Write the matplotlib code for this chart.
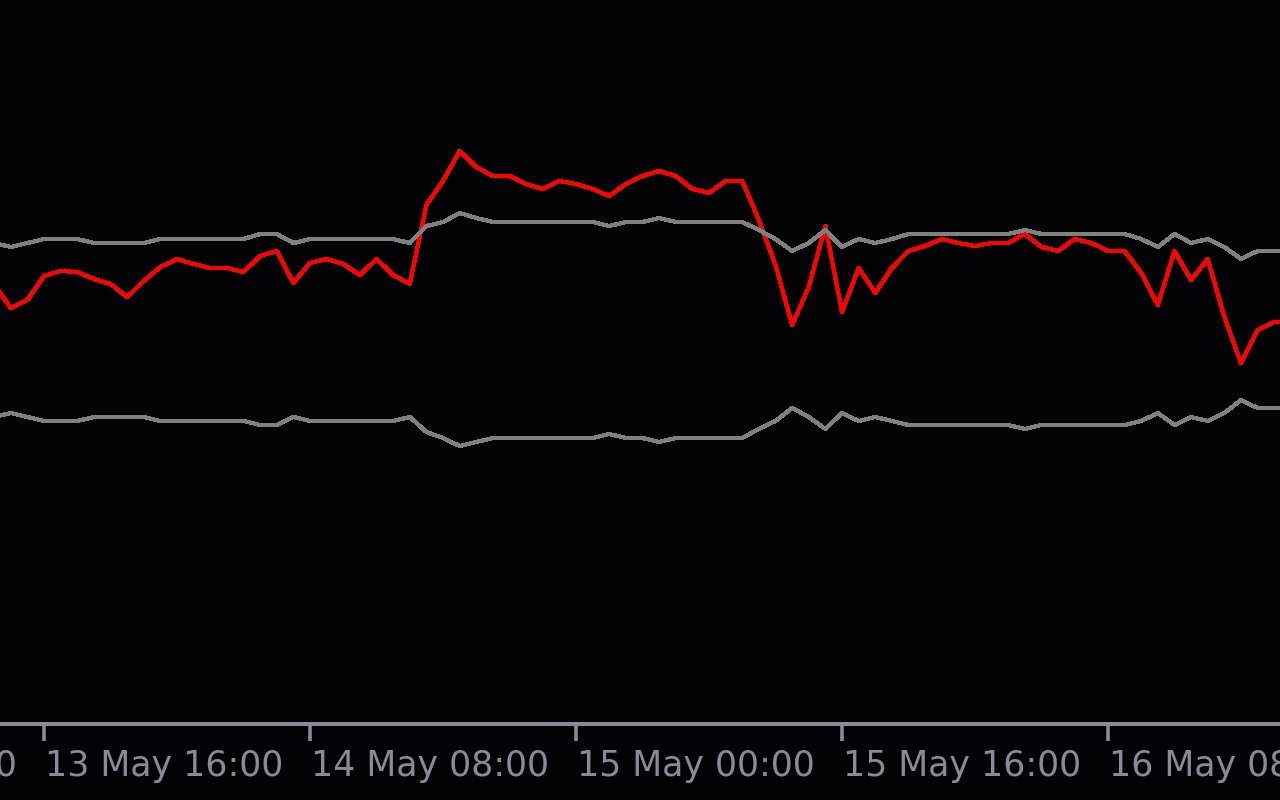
import numpy as np
import matplotlib
matplotlib.use("Agg")
import matplotlib.pyplot as plt

# hours counted from 13 May 00:00, one point per hour (H1 bars)
hours = np.arange(13, 92)

# main line (red)
main = [439, 415, 423, 447, 452, 451, 444, 439, 426, 442,
        456, 464, 459, 455, 455, 451, 467, 472, 440, 460,
        464, 459, 448, 464, 448, 439, 518, 542, 572, 556,
        547, 547, 539, 534, 542, 539, 534, 527, 539, 547,
        552, 547, 534, 530, 542, 542, 503, 458, 398, 436,
        497, 411, 455, 430, 455, 472, 477, 484, 480, 477,
        480, 480, 489, 476, 472, 484, 480, 472, 472, 450,
        418, 472, 443, 464, 406, 360, 393, 401, 401]

# upper band (gray)
upper = [480, 476, 480, 484, 484, 484, 480, 480, 480, 480,
         484, 484, 484, 484, 484, 484, 489, 489, 480, 484,
         484, 484, 484, 484, 484, 480, 497, 501, 510, 505,
         501, 501, 501, 501, 501, 501, 501, 497, 501, 501,
         505, 501, 501, 501, 501, 501, 493, 484, 472, 480,
         493, 476, 484, 480, 484, 489, 489, 489, 489, 489,
         489, 489, 493, 489, 489, 489, 489, 489, 489, 484,
         476, 489, 480, 484, 476, 464, 472, 472, 472]

# lower band (gray)
lower = [306, 310, 306, 302, 302, 302, 306, 306, 306, 306,
         302, 302, 302, 302, 302, 302, 298, 298, 306, 302,
         302, 302, 302, 302, 302, 306, 291, 285, 277, 281,
         285, 285, 285, 285, 285, 285, 285, 289, 285, 285,
         281, 285, 285, 285, 285, 285, 294, 302, 315, 306,
         294, 310, 302, 306, 302, 298, 298, 298, 298, 298,
         298, 298, 294, 298, 298, 298, 298, 298, 298, 302,
         310, 298, 306, 302, 310, 323, 315, 315, 315]

tick_hours = [0, 16, 32, 48, 64, 80]
tick_labels = ["13 May 00:00", "13 May 16:00", "14 May 08:00",
               "15 May 00:00", "15 May 16:00", "16 May 08:00"]

bg = "#030305"
grey_txt = "#8a8a98"

fig = plt.figure(figsize=(12.8, 8), dpi=100, facecolor=bg)
ax = fig.add_axes([0, 0.095, 1, 0.905], facecolor=bg)

ax.plot(hours, main, color="#ff0000", lw=2.3, antialiased=False, zorder=2)
ax.plot(hours, upper, color="#808080", lw=2.3, antialiased=False, zorder=3)
ax.plot(hours, lower, color="#808080", lw=2.3, antialiased=False, zorder=3)

ax.set_xlim(13.353, 90.346)
ax.set_ylim(-1, 723)

for s in ["top", "left", "right"]:
    ax.spines[s].set_visible(False)
ax.spines["bottom"].set_color(grey_txt)
ax.spines["bottom"].set_linewidth(2.9)

ax.set_yticks([])
ax.set_xticks([h for h in tick_hours if 13.353 < h < 90.346])
ax.tick_params(axis="x", direction="out", length=12.5, width=2.6,
               color=grey_txt, labelbottom=False)

# labels start just right of their tick
for h, lab in zip(tick_hours, tick_labels):
    ax.text(h + 0.06, -0.0718, lab, transform=ax.get_xaxis_transform(),
            ha="left", va="baseline", fontsize=25, color=grey_txt,
            family="DejaVu Sans", clip_on=False)

fig.savefig("out.png", dpi=100, facecolor=bg)
